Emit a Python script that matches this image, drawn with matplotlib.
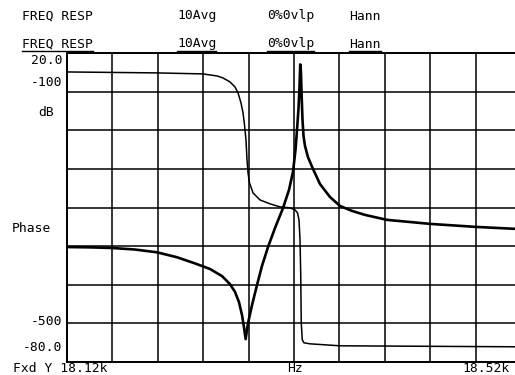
import matplotlib
matplotlib.use("Agg")
import matplotlib.pyplot as plt
import matplotlib.transforms as mtransforms
from matplotlib.lines import Line2D

# ---- data ----
freq_start, freq_stop = 18120, 18520          # Hz
db_top, db_bottom = 20.0, -80.0               # dB scale
phase_top, phase_bottom = -50.0, -567.0       # deg scale (implied by labels)

mag_freq = [18120.0, 18140.3, 18159.6, 18179.9, 18199.3, 18216.9, 18232.8, 18246.0, 18256.6,
            18263.6, 18268.0, 18271.5, 18274.2, 18275.9, 18277.4, 18278.6, 18279.5,
            18283.0, 18287.4, 18291.8, 18297.1, 18303.3, 18310.3, 18315.6, 18319.1,
            18321.3, 18322.6, 18324.0, 18324.8, 18325.5, 18326.1, 18326.7, 18327.5,
            18328.4, 18329.7, 18332.3, 18336.7, 18342.9, 18351.7, 18360.5, 18371.1,
            18382.6, 18401.9, 18439.8, 18481.2, 18520.0]
mag_db = [-42.8, -42.9, -43.1, -43.6, -44.5, -46.1, -48.1, -49.9, -52.2,
          -54.8, -57.3, -60.6, -64.8, -68.7, -72.6, -69.6, -67.4,
          -61.6, -55.1, -48.9, -42.8, -36.6, -30.2, -24.3, -18.5,
          -11.4, -5.2, 2.2, 8.7, 16.3, 13.9, 6.4, -1.7,
          -6.9, -10.1, -13.7, -17.5, -22.4, -26.6, -29.5, -31.1,
          -32.4, -34.0, -35.3, -36.3, -37.0]

ph_freq = [18120.0, 18199.3, 18239.8, 18252.2, 18257.4, 18263.6, 18268.0, 18270.7,
           18273.3, 18275.1, 18276.4, 18277.7, 18278.6, 18279.5, 18280.8, 18283.9,
           18290.0, 18298.9, 18307.7, 18316.5, 18320.9, 18323.1, 18324.4, 18325.3,
           18325.9, 18326.4, 18327.3, 18328.8, 18334.1, 18360.5, 18520.0]
ph_deg = [-81.7, -83.3, -85.0, -88.4, -91.7, -98.4, -106.8, -116.8,
          -133.5, -150.3, -170.3, -195.4, -228.9, -250.6, -267.3, -284.1,
          -295.8, -302.4, -307.5, -309.1, -312.5, -317.5, -329.2, -362.7,
          -417.8, -501.5, -529.9, -534.9, -536.6, -539.9, -541.6]

header_fields = ["FREQ RESP", "10Avg", "0%0vlp", "Hann"]
db_tick_vals = [20.0, -80.0]
db_tick_labels = ["20.0", "-80.0"]
ph_tick_vals = [-100, -500]
ph_tick_labels = ["-100", "-500"]
x_left_label = "Fxd Y 18.12k"
x_mid_label = "Hz"
x_right_label = "18.52k"

# ---- figure ----
W, H, DPI = 515, 375, 100
fig = plt.figure(figsize=(W / DPI, H / DPI), dpi=DPI)
fig.patch.set_facecolor("white")

def px(x, y):
    return x / W, 1 - y / H

ax_l, ax_r, ax_t, ax_b = 67, 521, 53, 362
ax = fig.add_axes([ax_l / W, 1 - ax_b / H, (ax_r - ax_l) / W, (ax_b - ax_t) / H])
ax.set_xlim(freq_start, freq_stop)
ax.set_ylim(db_bottom, db_top)
n_xdiv, n_ydiv = 10, 8
ax.set_xticks([freq_start + i * (freq_stop - freq_start) / n_xdiv for i in range(n_xdiv + 1)])
ax.set_yticks([db_bottom + i * (db_top - db_bottom) / n_ydiv for i in range(n_ydiv + 1)])
ax.tick_params(length=0, labelleft=False, labelbottom=False)
ax.grid(True, color="black", linewidth=1.1)
for s in ax.spines.values():
    s.set_linewidth(1.4)
    s.set_color("black")

ax.plot(mag_freq, mag_db, color="black", linewidth=1.9,
        solid_joinstyle="round", solid_capstyle="round", zorder=5)

axp = ax.twinx()
axp.set_ylim(phase_bottom, phase_top)
axp.set_yticks([])
for s in axp.spines.values():
    s.set_visible(False)
axp.plot(ph_freq, ph_deg, color="black", linewidth=1.1,
         solid_joinstyle="round", solid_capstyle="round", zorder=5)

font = dict(family="DejaVu Sans Mono", fontsize=9.4, color="black")

# header rows
hx = [22, 177, 267, 349]
row2 = []
for xx, t in zip(hx, header_fields):
    fig.text(*px(xx, 16), t, ha="left", va="center", **font)
    row2.append(fig.text(*px(xx, 44), t, ha="left", va="center", **font))

# left labels
lab_x = -5 / (ax_r - ax_l)
tr_db = mtransforms.blended_transform_factory(ax.transAxes, ax.transData)
tr_ph = mtransforms.blended_transform_factory(ax.transAxes, axp.transData)
ax.annotate(db_tick_labels[0], xy=(lab_x, db_tick_vals[0]), xycoords=tr_db,
            xytext=(0, -1), textcoords="offset points", ha="right", va="top", **font)
ax.annotate(db_tick_labels[1], xy=(lab_x, db_tick_vals[1]), xycoords=tr_db,
            xytext=(0, 6), textcoords="offset points", ha="right", va="bottom", **font)
for v, t in zip(ph_tick_vals, ph_tick_labels):
    ax.text(lab_x, v, t, transform=tr_ph, ha="right", va="center", **font)
fig.text(*px(38, 112), "dB", ha="left", va="center", **font)
fig.text(*px(12, 228), "Phase", ha="left", va="center", **font)

# bottom labels
fig.text(*px(13, 369), x_left_label, ha="left", va="center", **font)
fig.text(*px(295, 369), x_mid_label, ha="center", va="center", **font)
fig.text(*px(462, 369), x_right_label, ha="left", va="center", **font)

# underline active trace header
fig.canvas.draw()
r = fig.canvas.get_renderer()
for t in row2:
    bb = t.get_window_extent(renderer=r)
    yb = (bb.y0 - 0.5) / H
    fig.add_artist(Line2D([bb.x0 / W, bb.x1 / W], [yb, yb], color="black", linewidth=1.0,
                          transform=fig.transFigure))

fig.savefig("out.png", dpi=DPI, facecolor="white")
